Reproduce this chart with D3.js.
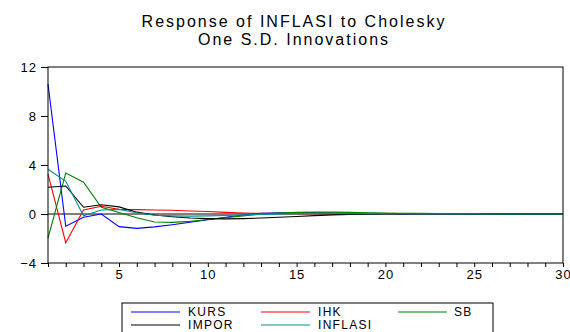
<!DOCTYPE html>
<html>
<head>
<meta charset="utf-8">
<script src="https://cdn.jsdelivr.net/npm/d3@7"></script>
<style>
  body { margin: 0; background: #fff; }
  svg text { font-family: Arial, "Liberation Sans", sans-serif; fill: #000; }
</style>
</head>
<body>
<div id="chart"></div>
<script>
// impulse responses of INFLASI, periods 1..30
const periods = d3.range(1, 31);
const kurs = [10.6, -1.0, -0.27, 0.0, -1.03, -1.17, -1.05, -0.88, -0.68, -0.47,
  -0.27, -0.08, 0.05, 0.1, 0.1, 0.1, 0.08, 0.07, 0.05, 0.04,
  0.03, 0.02, 0.02, 0.01, 0.01, 0.01, 0.0, 0.0, 0.0, 0.0];
const ihk = [3.26, -2.34, 0.33, 0.63, 0.38, 0.36, 0.33, 0.3, 0.25, 0.2,
  0.13, 0.08, 0.05, 0.04, 0.03, 0.03, 0.03, 0.02, 0.02, 0.02,
  0.02, 0.01, 0.01, 0.01, 0.01, 0.01, 0.01, 0.0, 0.0, 0.0];
const sb = [-1.96, 3.35, 2.6, 0.55, 0.12, -0.3, -0.65, -0.68, -0.6, -0.45,
  -0.3, -0.15, 0.0, 0.08, 0.13, 0.15, 0.15, 0.13, 0.1, 0.08,
  0.06, 0.05, 0.04, 0.03, 0.02, 0.02, 0.01, 0.01, 0.01, 0.01];
const impor = [2.18, 2.29, 0.55, 0.76, 0.58, 0.15, -0.08, -0.22, -0.33, -0.38,
  -0.4, -0.38, -0.33, -0.27, -0.2, -0.13, -0.07, -0.03, -0.01, 0.0,
  0.0, 0.0, 0.0, 0.0, 0.0, 0.0, 0.0, 0.0, 0.0, 0.0];
const inflasi = [3.65, 2.67, -0.14, 0.33, 0.38, 0.1, -0.1, -0.15, -0.17, -0.15,
  -0.12, -0.08, -0.04, 0.0, 0.03, 0.04, 0.04, 0.03, 0.03, 0.02,
  0.02, 0.01, 0.01, 0.01, 0.01, 0.0, 0.0, 0.0, 0.0, 0.0];

const seriesNames = ['KURS', 'IHK', 'SB', 'IMPOR', 'INFLASI'];
const seriesColors = ['#0000ff', '#ff0000', '#008000', '#000000', '#009090'];
const seriesValues = [kurs, ihk, sb, impor, inflasi];
const yTicks = [-4, 0, 4, 8, 12];
const xTicks = [5, 10, 15, 20, 25, 30];
const titleLines = ['Response of INFLASI to Cholesky', 'One S.D. Innovations'];

const W = 570, H = 332;
const margin = { top: 67, right: 7, bottom: 69, left: 48 };
const width = W - margin.left - margin.right;
const height = H - margin.top - margin.bottom;

const svg = d3.select('#chart').append('svg')
  .attr('width', W)
  .attr('height', H);

// title
svg.append('g').selectAll('text')
  .data(titleLines)
  .enter().append('text')
  .attr('x', 294)
  .attr('y', (d, i) => 27 + i * 18)
  .attr('text-anchor', 'middle')
  .style('font-size', '16px')
  .style('letter-spacing', '2px')
  .text(d => d);

const g = svg.append('g')
  .attr('transform', 'translate(' + margin.left + ',' + margin.top + ')');

const x = d3.scaleLinear().domain([1, 30]).range([0, width]);
const y = d3.scaleLinear().domain([-4, 12]).range([height, 0]);

// axes
const xAxis = g.append('g')
  .attr('transform', 'translate(0,' + height + ')')
  .call(d3.axisBottom(x).tickValues(periods).tickSize(4).tickPadding(3)
    .tickFormat(d => xTicks.includes(d) ? d : ''));
xAxis.select('.domain').remove();
xAxis.selectAll('text').style('font-size', '13px').style('letter-spacing', '1px');

const yAxis = g.append('g')
  .call(d3.axisLeft(y).tickValues(yTicks).tickSize(7).tickPadding(4));
yAxis.select('.domain').remove();
yAxis.selectAll('text').style('font-size', '13px').style('letter-spacing', '1px');
svg.selectAll('.tick line').attr('stroke', '#000');

// zero line
g.append('line')
  .attr('x1', 0).attr('x2', width)
  .attr('y1', y(0)).attr('y2', y(0))
  .attr('stroke', '#000').attr('stroke-width', 1);

// series
const line = d3.line()
  .x((d, i) => x(periods[i]))
  .y(d => y(d));

g.selectAll('.series')
  .data(seriesValues)
  .enter().append('path')
  .attr('class', 'series')
  .attr('fill', 'none')
  .attr('stroke', (d, i) => seriesColors[i])
  .attr('stroke-width', 1.1)
  .attr('d', line);

// frame
g.append('rect')
  .attr('width', width).attr('height', height)
  .attr('fill', 'none')
  .attr('stroke', '#000').attr('stroke-width', 1);

// legend
const legend = svg.append('g').attr('transform', 'translate(122,303)');
legend.append('rect')
  .attr('width', 371).attr('height', 40)
  .attr('fill', '#fff')
  .attr('stroke', '#000');

const colX = [9, 139, 276];
const rowY = [9, 22];
const item = legend.selectAll('.item')
  .data(seriesNames)
  .enter().append('g')
  .attr('class', 'item')
  .attr('transform', (d, i) => 'translate(' + colX[i % 3] + ',' + rowY[Math.floor(i / 3)] + ')');
item.append('line')
  .attr('x1', 0).attr('x2', 49)
  .attr('stroke', (d, i) => seriesColors[i]).attr('stroke-width', 1.1);
item.append('text')
  .attr('x', (d, i) => i === 2 ? 56 : 57)
  .attr('dy', '0.36em')
  .style('font-size', '12px')
  .style('letter-spacing', '1.3px')
  .text(d => d);
</script>
</body>
</html>
